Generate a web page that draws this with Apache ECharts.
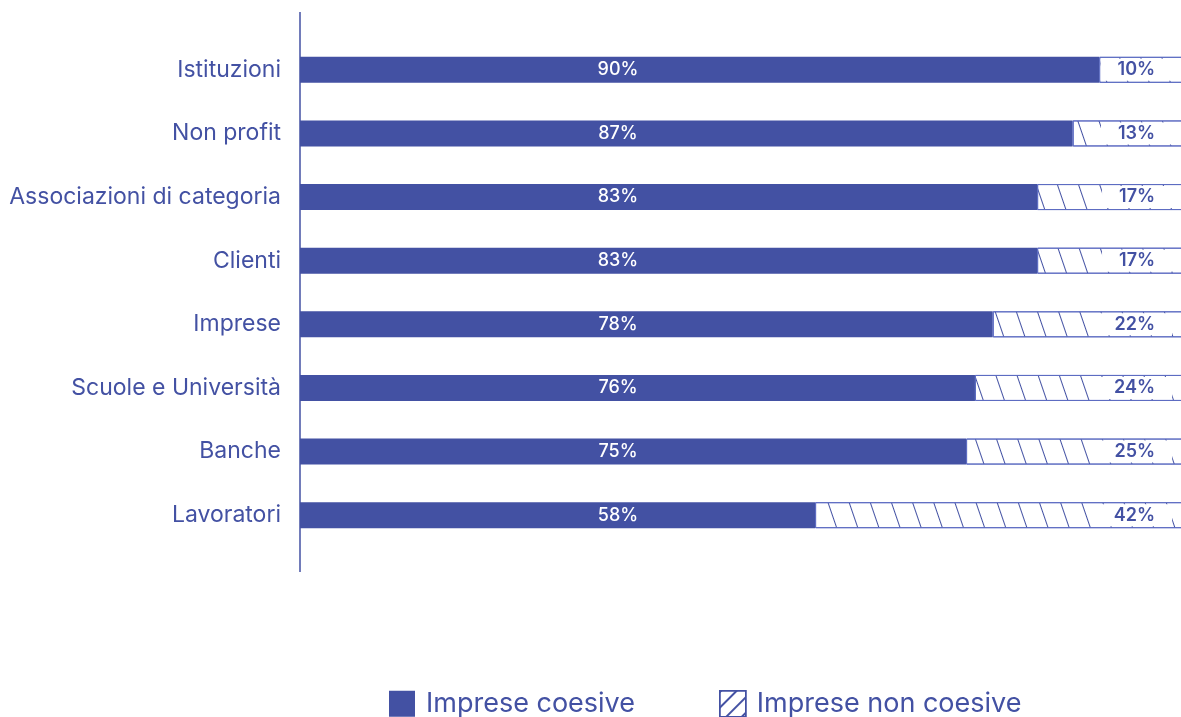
<!DOCTYPE html>
<html>
<head>
<meta charset="utf-8">
<script src="https://cdn.jsdelivr.net/npm/echarts@6/dist/echarts.min.js"></script>
<style>
  html, body { margin: 0; padding: 0; background: #ffffff; }
  #chart { width: 1181px; height: 717px; }
</style>
</head>
<body>
<div id="chart"></div>
<script>
// Stakeholder categories, top to bottom
const categories = [
  'Istituzioni', 'Non profit', 'Associazioni di categoria', 'Clienti',
  'Imprese', 'Scuole e Università', 'Banche', 'Lavoratori'
];
// Share of cohesive firms (%)
const coesive = [90, 87, 83, 83, 78, 76, 75, 58];
// Share of non-cohesive firms (%)
const nonCoesive = [10, 13, 17, 17, 22, 24, 25, 42];
const seriesNames = ['Imprese coesive', 'Imprese non coesive'];

const BLUE = '#4351a3';
const FONT = 'Inter, "Noto Sans", sans-serif';

// hatch used by the non-cohesive bars
const hatch = {
  symbol: 'rect',
  color: BLUE,
  dashArrayX: [1, 19],
  dashArrayY: [1, 0],
  rotation: -0.33,
  symbolSize: 1
};

const chart = echarts.init(document.getElementById('chart'), null, { renderer: 'canvas' });

chart.setOption({
  backgroundColor: '#ffffff',
  animation: false,
  grid: { left: 300, top: 38, height: 509, right: 0, containLabel: false },
  // the full 100% runs slightly past the right edge of the page
  xAxis: {
    type: 'value', min: 0, max: 99.2,
    show: false
  },
  yAxis: {
    type: 'category',
    data: categories,
    inverse: true,
    axisLine: { show: false },
    axisTick: { show: false },
    axisLabel: {
      color: BLUE, fontFamily: FONT, fontSize: 23, margin: 19
    }
  },
  legend: {
    top: 690,
    left: 389,
    padding: 0,
    itemWidth: 26,
    itemHeight: 26,
    itemGap: 84,
    icon: 'rect',
    textStyle: { color: BLUE, fontFamily: FONT, fontSize: 27, padding: [0, 0, 0, 6] },
    data: [
      { name: seriesNames[0] },
      {
        name: seriesNames[1],
        itemStyle: {
          color: '#ffffff',
          borderColor: BLUE,
          borderWidth: 1.5,
          decal: {
            symbol: 'rect', color: BLUE,
            dashArrayX: [1, 0], dashArrayY: [1.2, 9],
            rotation: -Math.PI / 4, symbolSize: 1
          }
        }
      }
    ]
  },
  graphic: [{
    type: 'line',
    shape: { x1: 300, y1: 12, x2: 300, y2: 572 },
    style: { stroke: BLUE, lineWidth: 1.5 },
    silent: true
  }],
  series: [
    {
      name: seriesNames[0],
      type: 'bar',
      stack: 'tot',
      barWidth: 26,
      clip: false,
      data: coesive,
      itemStyle: { color: BLUE },
      label: {
        show: true,
        position: [318, 13],
        align: 'center',
        verticalAlign: 'middle',
        color: '#ffffff',
        fontFamily: FONT,
        fontSize: 18,
        fontWeight: 500,
        formatter: p => p.value + '%'
      }
    },
    {
      name: seriesNames[1],
      type: 'bar',
      stack: 'tot',
      barWidth: 26,
      clip: false,
      data: nonCoesive,
      itemStyle: {
        color: '#ffffff',
        borderColor: '#5d6cc2',
        borderWidth: 1,
        decal: hatch
      },
      label: {
        show: true,
        position: 'insideRight',
        distance: 16,
        color: BLUE,
        backgroundColor: '#ffffff',
        padding: [2, 17],
        fontFamily: FONT,
        fontSize: 18,
        fontWeight: 600,
        formatter: p => p.value + '%'
      }
    }
  ]
});
</script>
</body>
</html>
